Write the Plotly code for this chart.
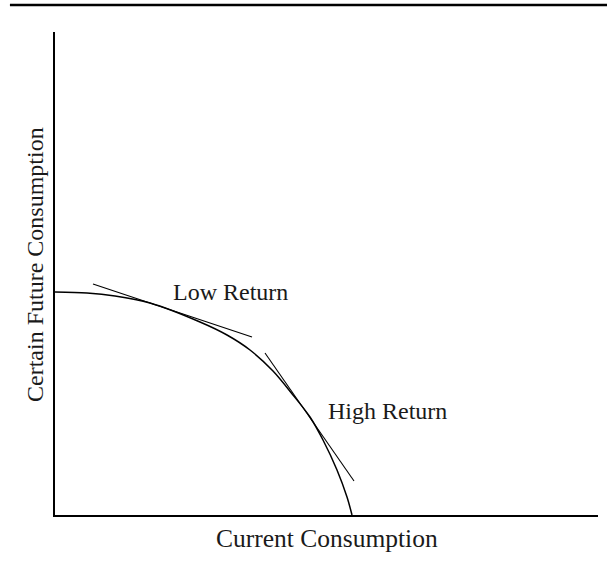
import plotly.graph_objects as go

# Production possibility curve (data units: pixels-like scale)
curve_x = [0, 32, 60, 95, 145, 172, 195, 218, 238, 255, 268, 282, 292, 297]
curve_y = [223, 222, 219, 212, 193, 180, 165, 144, 120, 98, 75, 45, 18, 0]

# Tangent lines
low_x = [38, 197]
low_y = [231, 178]
high_x = [210, 299]
high_y = [162, 34]

labels = ["Low Return", "High Return"]
label_x = [175, 332]
label_y = [223, 104]

x_title = "Current Consumption"
y_title = "Certain Future Consumption"

FONT = "Liberation Serif"

fig = go.Figure()
fig.add_trace(go.Scatter(x=curve_x, y=curve_y, mode="lines",
                         line=dict(color="black", width=1.5, shape="spline", smoothing=0.9),
                         hoverinfo="skip"))
fig.add_trace(go.Scatter(x=low_x, y=low_y, mode="lines",
                         line=dict(color="black", width=1.1), hoverinfo="skip"))
fig.add_trace(go.Scatter(x=high_x, y=high_y, mode="lines",
                         line=dict(color="black", width=1.1), hoverinfo="skip"))

for t, x, y in zip(labels, label_x, label_y):
    fig.add_annotation(x=x, y=y, text=t, showarrow=False, xanchor="center", yanchor="middle",
                       font=dict(family=FONT, size=24, color="#1a1a1a"))

fig.add_annotation(x=272, y=0, yref="y", text=x_title, showarrow=False,
                   xanchor="center", yanchor="top", yshift=-7,
                   font=dict(family=FONT, size=25.5, color="#1a1a1a"))
fig.add_annotation(x=0, xref="paper", y=250, text=y_title, showarrow=False, textangle=-90,
                   xanchor="center", yanchor="middle", xshift=-20,
                   font=dict(family=FONT, size=24, color="#1a1a1a"))

# Top rule
fig.add_shape(type="line", xref="paper", yref="paper",
              x0=-0.083, x1=1.02, y0=1.0559, y1=1.0559,
              line=dict(color="black", width=2.5))

fig.update_xaxes(range=[0, 543], showline=True, linecolor="black", linewidth=1.5,
                 showgrid=False, zeroline=False, showticklabels=False, ticks="")
fig.update_yaxes(range=[0, 483], showline=True, linecolor="black", linewidth=1.5,
                 showgrid=False, zeroline=False, showticklabels=False, ticks="")

fig.update_layout(width=607, height=562, showlegend=False,
                  margin=dict(l=55, r=9, t=32, b=47),
                  plot_bgcolor="white", paper_bgcolor="white")

fig.write_html("out.html", config={"displayModeBar": False},
               post_script="document.body.style.margin='0';")
